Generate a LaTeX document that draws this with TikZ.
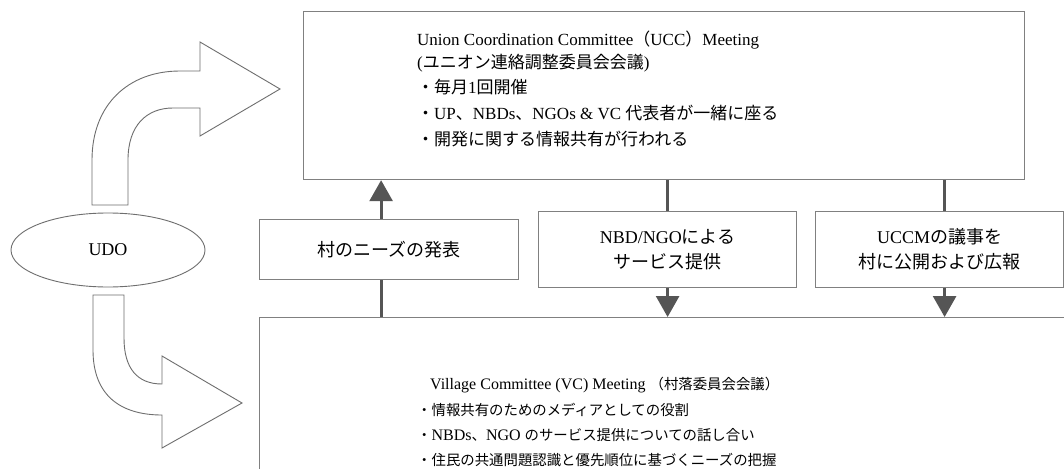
\documentclass[tikz,border=0pt]{standalone}
\usepackage{fontspec}
\setmainfont{Liberation Serif}
\newfontfamily\cjk{Noto Sans CJK JP}
\newfontfamily\cjks[Scale=0.9]{Noto Sans CJK JP}
\usetikzlibrary{arrows.meta,shapes.geometric}
\newcommand{\J}[1]{{\cjk #1}}
\newcommand{\Js}[1]{{\cjks #1}}
\definecolor{boxgray}{RGB}{128,128,128}
\definecolor{arrgray}{RGB}{85,85,85}
\definecolor{shapegray}{RGB}{110,110,110}
\begin{document}
\begin{tikzpicture}[x=1pt,y=-1pt,
  box/.style={draw=boxgray, line width=1.2pt, inner sep=0pt, anchor=north west},
  midbox/.style={draw=boxgray, line width=1.2pt, inner sep=0pt, align=center, font=\fontsize{18}{25}\selectfont, anchor=north west},
  topline/.style={anchor=base west, inner sep=0pt, font=\fontsize{17}{20}\selectfont},
  botline/.style={anchor=base west, inner sep=0pt, font=\fontsize{16}{18}\selectfont},
  flow/.style={draw=arrgray, line width=2.8pt},
  flowarr/.style={flow, -{Triangle[width=23pt,length=21pt]}},
  bigarrow/.style={draw=shapegray, line width=0.9pt, fill=white, line join=miter}
]
\path[use as bounding box, clip] (0,0) rectangle (1064,468);
\fill[white] (0,0) rectangle (1064,468);

% main boxes
\node[box, minimum width=721pt, minimum height=168pt] (ucc) at (303,11) {};
\node[box, minimum width=900pt, minimum height=300pt] (vc) at (259,317) {};

% middle boxes
\node[midbox, minimum width=259pt, minimum height=60pt] (m1) at (259,219) {\J{村のニーズの発表}};
\node[midbox, minimum width=258pt, minimum height=76pt] (m2) at (538,211) {NBD/NGO\J{による}\\\J{サービス提供}};
\node[midbox, minimum width=248pt, minimum height=76pt] (m3) at (815,211) {UCCM\J{の議事を}\\\J{村に公開および広報}};

% UDO
\node[ellipse, draw=shapegray, line width=0.9pt, minimum width=194pt, minimum height=74pt, inner sep=0pt, font=\fontsize{18}{20}\selectfont] (udo) at (108,250) {UDO};

% connectors
\draw[flowarr] ([xshift=-8pt]m1.north) -- ([xshift=-8pt]m1.north |- ucc.south);
\draw[flow] ([xshift=-8pt]m1.south |- vc.north) -- ([xshift=-8pt]m1.south);
\draw[flow] (m2.north |- ucc.south) -- (m2.north);
\draw[flowarr] (m2.south) -- (m2.south |- vc.north);
\draw[flow] ([xshift=5pt]m3.north |- ucc.south) -- ([xshift=5pt]m3.north);
\draw[flowarr] ([xshift=5pt]m3.south) -- ([xshift=5pt]m3.south |- vc.north);

% top box text
\node[topline] (u1) at (417,46) {Union Coordination Committee\J{（}UCC\J{）}Meeting};
\node[topline] (u2) at (417,69) {(\J{ユニオン連絡調整委員会会議})};
\node[topline] (u3) at (417,94) {\J{・毎月}1\J{回開催}};
\node[topline] (u4) at (417,119) {\J{・}UP\J{、}NBDs\J{、}NGOs \& VC \J{代表者が一緒に座る}};
\node[topline] (u5) at (417,145) {\J{・開発に関する情報共有が行われる}};

% bottom box text
\node[botline] (v1) at (430,389) {Village Committee (VC) Meeting \Js{（村落委員会会議）}};
\node[botline] (v2) at (417,415) {\Js{・情報共有のためのメディアとしての役割}};
\node[botline] (v3) at (417,440) {\Js{・}NBDs\Js{、}NGO \Js{のサービス提供についての話し合い}};
\node[botline] (v4) at (417,465) {\Js{・住民の共通問題認識と優先順位に基づくニーズの把握}};

% big curved arrows
\draw[bigarrow] (92,205) -- (92,160) .. controls (92,105) and (128,71) .. (180,71) -- (200,71) -- (200,42) -- (280,89) -- (200,136) -- (200,108) -- (173,108) .. controls (147,108) and (128,125) .. (128,160) -- (128,205) -- cycle;
\draw[bigarrow] (93,295) -- (124,295) -- (124,338) .. controls (124,368) and (137,384) .. (162,384) -- (162,356) -- (242,403) -- (162,448) -- (162,415) .. controls (120,415) and (93,395) .. (93,350) -- cycle;
\end{tikzpicture}
\end{document}
